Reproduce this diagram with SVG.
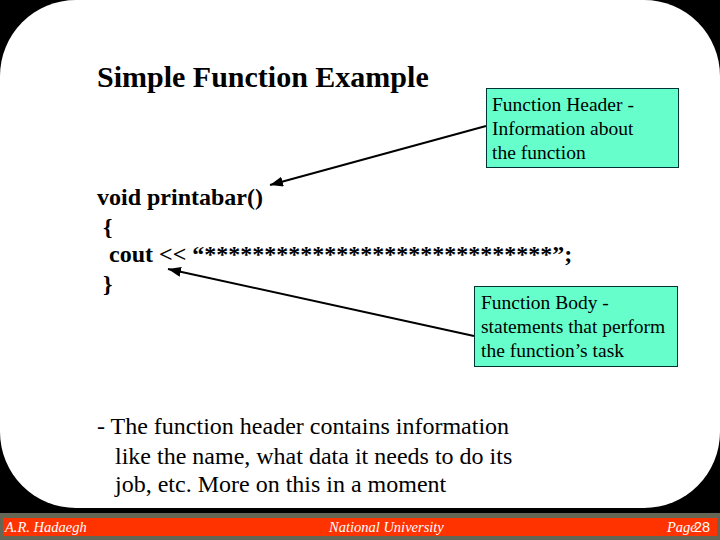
<svg xmlns="http://www.w3.org/2000/svg" width="720" height="540" viewBox="0 0 720 540">
<style>
text{font-family:"Liberation Serif","Times New Roman",serif;fill:#000}
.b{font-weight:bold;font-size:24px}
.t{font-size:24px}
.s{font-size:19.5px}
.f{font-style:italic;font-size:14.5px;fill:#fff}
.box{fill:#66ffcc;stroke:#003333;stroke-width:1}
.c{stroke:#000;stroke-width:2;fill:none;marker-end:url(#a)}
</style>
<defs><marker id="a" markerUnits="userSpaceOnUse" markerWidth="14" markerHeight="12" refX="13" refY="5" orient="auto"><path d="M0 0L13 5L0 10Z" fill="#000"/></marker></defs>
<rect width="720" height="540" fill="#000"/>
<rect x="0" y="0" width="720" height="508" rx="76" ry="76" fill="#fff"/>
<g id="footer">
<rect x="0" y="513" width="720" height="27" fill="#666655"/>
<rect x="3" y="518" width="714" height="18" fill="#ff3300"/>
<text class="f" x="5" y="532">A.R. Hadaegh</text>
<text class="f" x="329" y="532">National University</text>
<text class="f" x="667" y="532">Page</text>
<text x="694" y="532" style="font-family:'Liberation Sans',sans-serif;font-size:14.5px;fill:#fff">28</text>
</g>
<g id="title"><text x="97" y="87" style="font-size:30px;font-weight:bold">Simple Function Example</text></g>
<g id="code">
<text class="b" x="97" y="205">void printabar()</text>
<text class="b" x="103" y="235">{</text>
<text class="b" x="109" y="262">cout &lt;&lt; “*****************************”;</text>
<text class="b" x="103" y="292">}</text>
</g>
<g id="connectors">
<path class="c" d="M486 126L270 185"/>
<path class="c" d="M474 336L168 269"/>
</g>
<g id="header-note">
<rect class="box" x="486.500" y="88.500" width="192" height="79"/>
<text class="s" x="492" y="111">Function Header -</text>
<text class="s" x="492" y="135">Information about</text>
<text class="s" x="492" y="159">the function</text>
</g>
<g id="body-note">
<rect class="box" x="474.500" y="286.500" width="203" height="80"/>
<text class="s" x="481" y="309">Function Body -</text>
<text class="s" x="481" y="333">statements that perform</text>
<text class="s" x="481" y="357">the function’s task</text>
</g>
<g id="description">
<text class="t" x="97" y="434">- The function header contains information</text>
<text class="t" x="115" y="464">like the name, what data it needs to do its</text>
<text class="t" x="115" y="492">job, etc. More on this in a moment</text>
</g>
</svg>
